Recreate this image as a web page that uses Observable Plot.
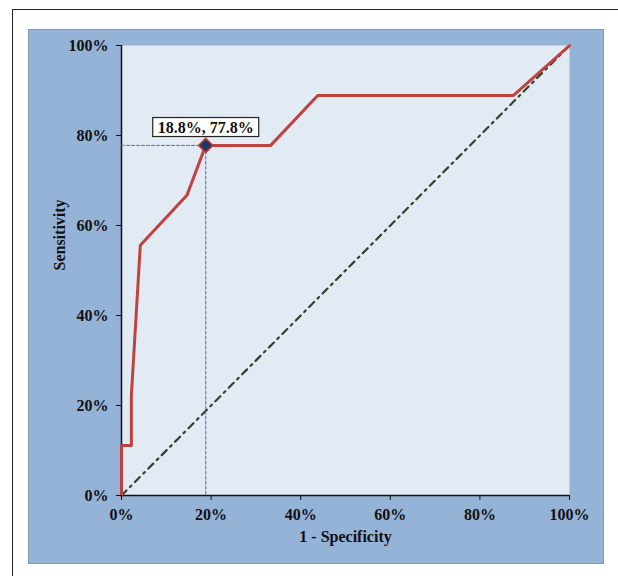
<!DOCTYPE html>
<html><head><meta charset="utf-8">
<script src="https://cdn.jsdelivr.net/npm/d3@7"></script>
<script src="https://cdn.jsdelivr.net/npm/@observablehq/plot@0.6"></script>
<style>
body{margin:0;background:#fff;}
#wrap{position:relative;width:618px;height:576px;overflow:hidden;}
#outer{position:absolute;left:12px;top:9px;width:640px;height:600px;border:1.5px solid #222;box-sizing:border-box;}
#panel{position:absolute;left:28px;top:29px;width:576px;height:535px;background:#95b3d7;border:1px solid #8497b0;box-sizing:border-box;}
#chart{position:absolute;left:0;top:0;}
</style></head><body>
<div id="wrap"><div id="outer"></div><div id="panel"></div><div id="chart"></div></div>
<script>
// ROC curve points (1 - specificity, sensitivity), in percent
const fpr = [0, 0, 2.2, 2.2, 4.2, 14.6, 18.8, 33.3, 43.8, 87.5, 100];
const tpr = [0, 11.1, 11.1, 22.2, 55.6, 66.7, 77.8, 77.8, 88.9, 88.9, 100];
// chance diagonal
const chance = [0, 100];
// optimal cut-off
const cutFpr = 18.8;
const cutTpr = 77.8;
const cutLabel = "18.8%, 77.8%";
const tickValues = [0, 20, 40, 60, 80, 100];
const xTitle = "1 - Specificity";
const yTitle = "Sensitivity";

const roc = fpr.map((x, i) => ({x, y: tpr[i]}));
const diag = chance.map(v => ({x: v, y: v}));
const guide = [{x: 0, y: cutTpr}, {x: cutFpr, y: cutTpr}, {x: cutFpr, y: 0}];
const cut = [{x: cutFpr, y: cutTpr}];

const font = "'Liberation Serif', 'Times New Roman', serif";
const chart = Plot.plot({
  width: 618, height: 576,
  marginLeft: 121, marginRight: 49, marginTop: 45, marginBottom: 81,
  x: {domain: [0, 100]},
  y: {domain: [0, 100]},
  style: {background: "transparent", fontFamily: font, fontWeight: "bold", fontSize: "16px", color: "#111"},
  marks: [
    Plot.frame({fill: "#e2eaf4", stroke: "none"}),
    Plot.ruleX([0], {stroke: "#111", strokeWidth: 1.5}),
    Plot.ruleY([0], {stroke: "#111", strokeWidth: 1.5}),
    Plot.line(diag, {x: "x", y: "y", stroke: "#35412c", strokeWidth: 2.2, strokeDasharray: "7,5,2,5"}),
    Plot.line(guide, {x: "x", y: "y", stroke: "#4f70a3", strokeWidth: 1, strokeDasharray: "3,2"}),
    Plot.line(roc, {x: "x", y: "y", stroke: "#c0423f", strokeWidth: 3}),
    Plot.dot(cut, {x: "x", y: "y", symbol: "diamond2", r: 6.5, fill: "#1f3864", stroke: "#c0423f", strokeWidth: 1.5}),
    Plot.text(cut, {x: "x", y: "y", text: () => cutLabel, dy: -18, fontSize: 16, fontWeight: "bold", fill: "#111"}),
    Plot.axisX({ticks: tickValues, tickFormat: d => d + "%", tickSize: 5, tickPadding: 8, label: null, fontSize: 16, fontWeight: "bold"}),
    Plot.axisY({ticks: tickValues, tickFormat: d => d + "%", tickSize: 5, tickPadding: 8, label: null, fontSize: 16, fontWeight: "bold"}),
    Plot.text([xTitle], {frameAnchor: "bottom", dy: 46, fontSize: 16, fontWeight: "bold", fill: "#111"}),
    Plot.text([yTitle], {frameAnchor: "left", dx: -62, rotate: -90, fontSize: 16, fontWeight: "bold", fill: "#111"})
  ]
});
document.getElementById("chart").appendChild(chart);

// white box behind the cut-off label
const ns = "http://www.w3.org/2000/svg";
for (const t of Array.from(chart.querySelectorAll("text"))) {
  if (t.textContent.trim() === cutLabel) {
    const b = t.getBBox();
    const r = document.createElementNS(ns, "rect");
    r.setAttribute("x", b.x - 5);
    r.setAttribute("y", b.y - 1);
    r.setAttribute("width", b.width + 10);
    r.setAttribute("height", b.height + 2);
    r.setAttribute("fill", "#fff");
    r.setAttribute("stroke", "#222");
    r.setAttribute("stroke-width", "1.2");
    const tr = t.getAttribute("transform");
    if (tr) r.setAttribute("transform", tr);
    t.parentNode.insertBefore(r, t);
  }
}
</script>
</body></html>
